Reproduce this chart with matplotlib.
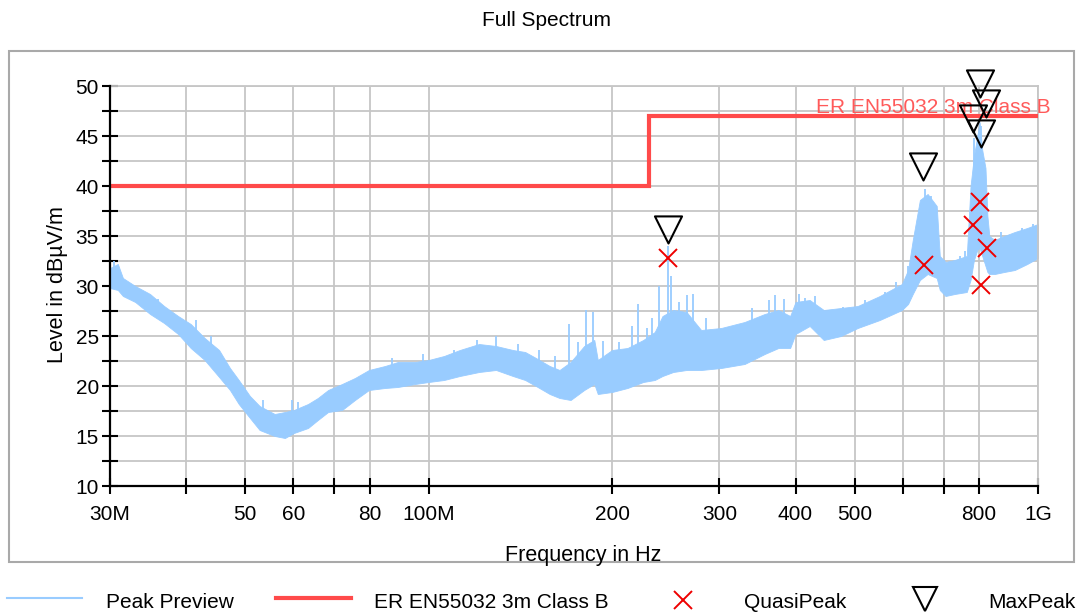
import numpy as np
import matplotlib
matplotlib.use("Agg")
import matplotlib.pyplot as plt
from matplotlib.path import Path
from matplotlib.patches import Rectangle

plt.rcParams['font.family'] = ['Liberation Sans', 'DejaVu Sans']

# Peak preview trace: frequency in MHz, lower / upper edge of the noisy band in dBuV/m
band_mhz = [30.0, 30.9, 31.5, 33.0, 34.9, 36.8, 38.8, 40.7, 42.9, 45.3, 47.2, 48.8, 50.9, 52.8,
            55.9, 58.1, 60.1, 63.4, 65.8, 68.4, 72.1, 75.7, 79.8, 84.8, 89.0, 95, 100, 106,
            112.5, 121, 129, 137.5, 144, 150, 158, 164, 171, 180, 187, 189.5, 200, 212, 225,
            235, 242, 252, 265, 280, 302, 330, 356, 375, 392, 400, 422, 445, 475, 506, 550,
            598, 612, 623, 640, 659, 682, 690, 705, 730, 764, 775, 785, 795, 802, 810, 820, 826,
            832, 849, 880, 916, 960, 1000]
band_low = [29.8, 29.6, 29.0, 28.4, 27.2, 26.3, 25.2, 23.8, 22.6, 20.9, 19.6, 18.2, 16.8, 15.6,
            15.0, 14.8, 15.3, 15.8, 16.6, 17.4, 17.6, 18.6, 19.6, 19.8, 19.9, 20.2, 20.4, 20.6,
            21.0, 21.4, 21.6, 21.0, 20.6, 20.0, 19.2, 18.8, 18.6, 19.6, 20.2, 19.2, 19.4, 19.8, 20.4,
            20.6, 21.0, 21.4, 21.6, 21.6, 21.8, 22.2, 23.2, 23.8, 23.8, 25.2, 26.0, 24.6, 25.0, 25.8, 26.6,
            27.6, 28.2, 29.2, 30.6, 31.2, 30.8, 29.6, 29.0, 29.2, 29.4, 30.6, 32.6, 33.6, 33.8, 33.0,
            32.0, 31.4, 31.2, 31.2, 31.4, 31.6, 32.2, 32.8]
band_high = [31.8, 32.2, 30.8, 30.0, 29.2, 28.0, 27.0, 26.2, 24.8, 23.6, 21.8, 20.6, 19.0, 18.0,
             17.2, 17.4, 17.6, 18.2, 18.8, 19.6, 20.2, 20.8, 21.6, 22.0, 22.4, 22.4, 22.6, 23.0,
             23.6, 24.2, 24.0, 23.6, 23.4, 22.8, 22.0, 21.6, 22.4, 24.0, 24.6, 22.6, 23.6, 23.8, 24.6,
             25.4, 27.0, 27.6, 27.4, 25.6, 25.8, 26.4, 27.2, 27.6, 27.0, 28.4, 28.6, 27.6, 27.8, 28.0, 29.0,
             30.2, 31.6, 34.6, 38.6, 39.2, 38.0, 33.0, 32.4, 32.6, 33.0, 40.0, 43.0, 45.0, 46.4, 43.6,
             41.8, 37.0, 35.0, 34.6, 35.0, 35.4, 35.8, 36.2]

# narrow spikes poking out of the band
spike_mhz = [30.5, 36.0, 41.5, 44.0, 53.5, 59.6, 61.0, 87, 98, 110, 120, 129, 140, 152, 161, 170,
             176, 181, 186, 193, 205, 216, 221, 228, 233, 239, 247, 250, 258, 265, 272, 285, 340, 362,
             370, 383, 405, 415, 430, 478, 520, 560, 585, 612, 652, 667, 700, 745, 760, 784, 805,
             820, 870, 940, 980]
spike_base = [30.5, 27.0, 24.5, 23.0, 16.5, 16.5, 16.5, 21.0, 21.5, 22.0, 22.5, 22.5, 22.0, 21.5,
              20.5, 20.5, 21.0, 21.5, 22.0, 21.0, 21.5, 21.8, 22.0, 22.2, 22.5, 23.0, 23.0, 23.0, 23.5,
              23.5, 23.5, 23.5, 24.0, 25.0, 25.0, 25.0, 26.5, 27.0, 26.5, 26.5, 27.0, 27.5, 28.5,
              30.0, 34.0, 34.0, 30.5, 30.5, 30.5, 36.0, 38.0, 35.0, 33.0, 33.5, 34.0]
spike_top = [32.5, 28.7, 26.6, 25.0, 18.6, 18.6, 18.4, 22.8, 23.2, 23.6, 24.6, 25.0, 24.2, 23.6,
             23.0, 26.2, 24.4, 27.6, 27.4, 24.5, 24.4, 26.0, 28.2, 25.8, 26.8, 30.0, 34.0, 31.0, 28.4,
             29.1, 29.2, 26.8, 27.8, 28.6, 29.1, 28.7, 29.2, 28.8, 29.0, 27.9, 28.6, 29.4, 30.4,
             32.0, 39.7, 39.0, 32.6, 33.0, 33.5, 44.8, 46.0, 41.8, 35.4, 35.8, 36.2]

# EN55032 class B, 3 m limit
limit_mhz = [30, 230, 230, 1000]
limit_db = [40, 40, 47, 47]

# final measurement points
qp_mhz = [247, 649, 782, 802, 807, 825]
qp_db = [32.8, 32.1, 36.1, 38.4, 30.1, 33.8]
mp_mhz = [247, 648, 782, 802, 807, 823]
mp_db = [34.3, 40.6, 45.4, 48.9, 43.9, 46.9]

xtick_mhz = [30, 40, 50, 60, 70, 80, 100, 200, 300, 400, 500, 600, 700, 800, 1000]
xtick_labels = ['30M', '', '50', '60', '', '80', '100M', '200', '300', '400', '500', '', '', '800', '1G']

blue = '#99ccff'
red = '#ff4a4a'
W, H = 1076, 614

fig = plt.figure(figsize=(W / 100, H / 100), dpi=100)
ax = fig.add_axes([110 / W, 1 - 486 / H, 928 / W, 400 / H])

hz = lambda v: np.array(v) * 1e6

ax.fill_between(hz(band_mhz), band_low, band_high, color=blue, lw=0.6, edgecolor=blue, zorder=2)
ax.vlines(hz(spike_mhz), spike_base, spike_top, color=blue, lw=1.3, zorder=2)
ax.plot(hz(limit_mhz), limit_db, color=red, lw=3, solid_joinstyle='miter', zorder=3)
ax.plot(hz(qp_mhz), qp_db, ls='none', marker='x', ms=13, mew=1.4, color='#ee0000', zorder=5, clip_on=False)

apex_down = Path([(0, 0), (-1, 2), (1, 2), (0, 0)],
                 [Path.MOVETO, Path.LINETO, Path.LINETO, Path.CLOSEPOLY])
ax.plot(hz(mp_mhz), mp_db, ls='none', marker=apex_down, ms=39, mew=1.5, mec='black', mfc='none',
        zorder=6, clip_on=False)

ax.text(1.0135, 47.3, 'ER EN55032 3m Class B', transform=ax.get_yaxis_transform(), ha='right',
        va='baseline', color='#ff5a5a', fontsize=15, zorder=4, clip_on=False)

ax.set_xscale('log')
ax.set_xlim(30e6, 1e9)
ax.set_ylim(10, 50)
ax.set_xticks(hz(xtick_mhz), xtick_labels)
ax.minorticks_off()
yt = np.arange(10, 50.01, 2.5)
ax.set_yticks(yt, [f'{v:.0f}' if v % 5 == 0 else '' for v in yt])
ax.tick_params(axis='both', direction='inout', length=12, width=1.5, labelsize=15, color='black')
ax.tick_params(axis='x', pad=8)
ax.tick_params(axis='y', pad=2)
ax.grid(True, color='#c6c6c6', lw=1.3)
ax.set_axisbelow(True)
for s in ['left', 'bottom']:
    ax.spines[s].set_linewidth(1.6)
    ax.spines[s].set_zorder(4)
for s in ['top', 'right']:
    ax.spines[s].set_color('#c6c6c6')
    ax.spines[s].set_linewidth(1.3)

# overlay in pixel coordinates for the frame, title, axis labels and legend
ov = fig.add_axes([0, 0, 1, 1], zorder=-1)
ov.set_xlim(0, W)
ov.set_ylim(H, 0)
ov.axis('off')
ov.add_patch(Rectangle((9, 51), 1065, 511, fill=False, ec='#a9a9a9', lw=1.5))
ov.text(546, 26, 'Full Spectrum', ha='center', va='baseline', fontsize=15)
ov.text(583, 561, 'Frequency in Hz', ha='center', va='baseline', fontsize=15.5)
ov.text(57, 285, 'Level in dBµV/m', ha='center', va='center', rotation=90, fontsize=15.5)

ov.plot([7, 82], [598, 598], color=blue, lw=1.5)
ov.text(106, 608, 'Peak Preview', va='baseline', fontsize=15)
ov.plot([276, 351], [598, 598], color=red, lw=3)
ov.text(374, 608, 'ER EN55032 3m Class B', va='baseline', fontsize=15)
ov.plot([683], [600], marker='x', ms=13, mew=1.4, color='#ee0000')
ov.text(744, 608, 'QuasiPeak', va='baseline', fontsize=15)
ov.plot([925], [599], marker='v', ms=17, mew=1.5, mec='black', mfc='none')
ov.text(988, 608, 'MaxPeak', va='baseline', fontsize=15)

fig.savefig('out.png', dpi=100)
